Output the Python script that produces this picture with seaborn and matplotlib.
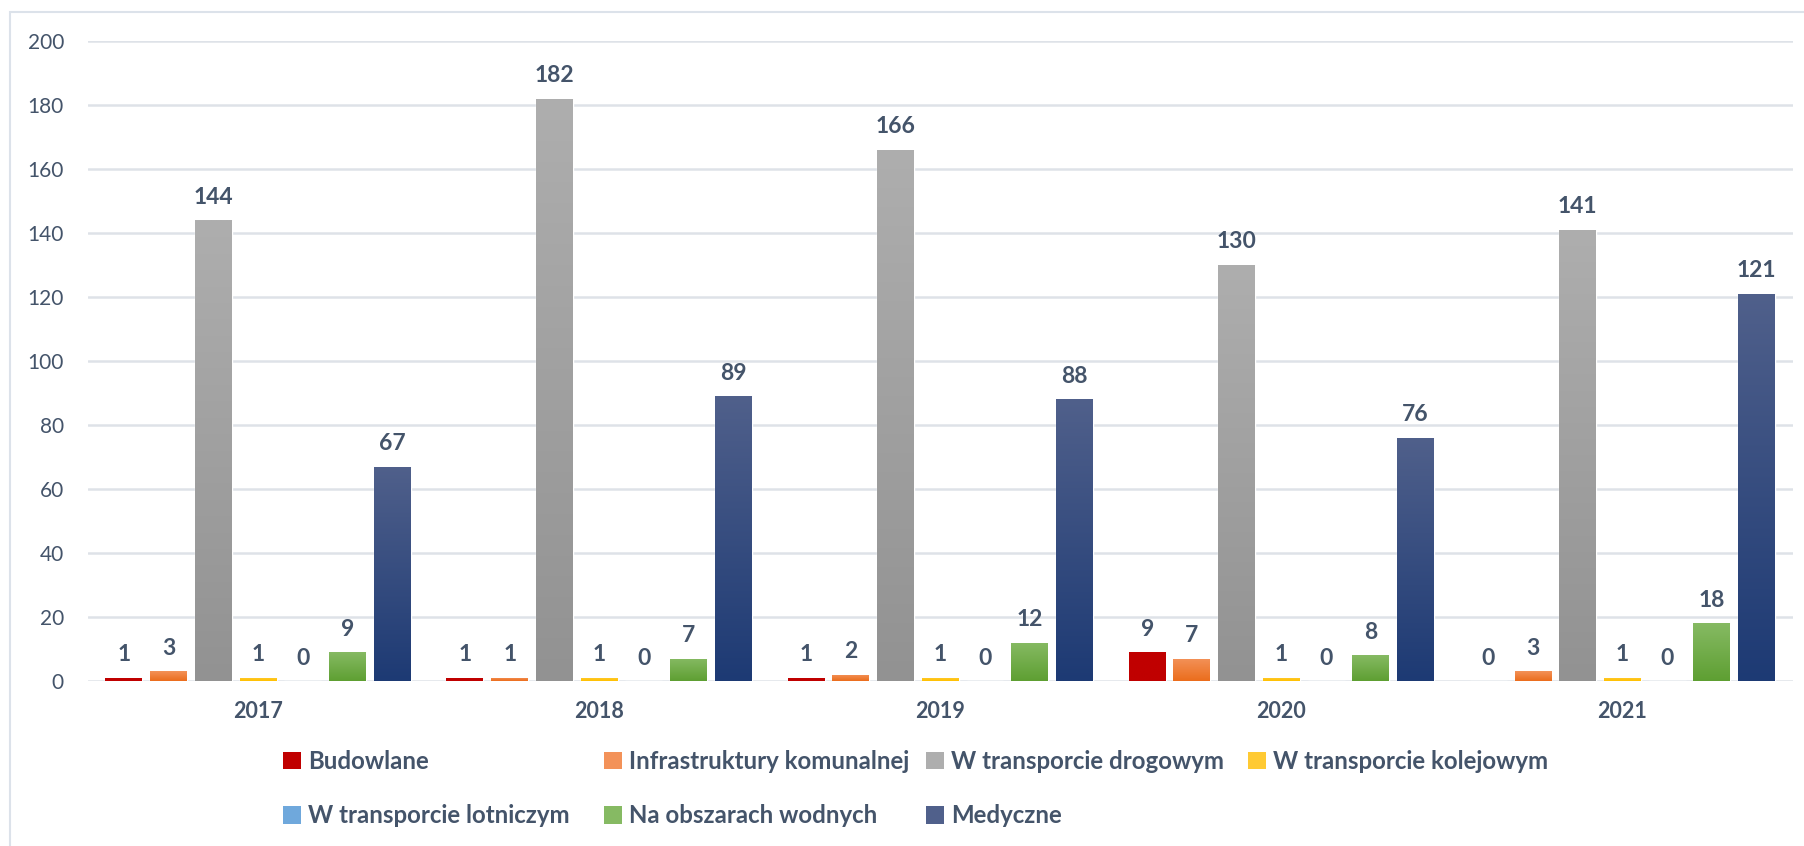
import numpy as np
import pandas as pd
import seaborn as sns
import matplotlib.pyplot as plt
from matplotlib.colors import LinearSegmentedColormap
from matplotlib.patches import Rectangle, Patch

# dane
lata = ["2017", "2018", "2019", "2020", "2021"]
kategorie = ["Budowlane", "Infrastruktury komunalnej", "W transporcie drogowym",
             "W transporcie kolejowym", "W transporcie lotniczym",
             "Na obszarach wodnych", "Medyczne"]
budowlane = [1, 1, 1, 9, 0]
infrastruktura = [3, 1, 2, 7, 3]
drogowy = [144, 182, 166, 130, 141]
kolejowy = [1, 1, 1, 1, 1]
lotniczy = [0, 0, 0, 0, 0]
wodne = [9, 7, 12, 8, 18]
medyczne = [67, 89, 88, 76, 121]

# kolory: (dol, gora) gradientu
kolory = {
    "Budowlane": ("#C00000", "#C00000"),
    "Infrastruktury komunalnej": ("#EB6D1C", "#F39259"),
    "W transporcie drogowym": ("#929292", "#AEAEAE"),
    "W transporcie kolejowym": ("#FFC000", "#FFCA33"),
    "W transporcie lotniczym": ("#3F86CB", "#6FA8DC"),
    "Na obszarach wodnych": ("#5E9F32", "#86BA63"),
    "Medyczne": ("#1D3A74", "#50608B"),
}
kolor_tekstu = "#44546A"
kolor_siatki = "#DEE2E8"

wartosci = [budowlane, infrastruktura, drogowy, kolejowy, lotniczy, wodne, medyczne]
df = pd.DataFrame({
    "rok": np.repeat(lata, len(kategorie)),
    "kategoria": kategorie * len(lata),
    "liczba": [wartosci[k][r] for r in range(len(lata)) for k in range(len(kategorie))],
})

sns.set_theme(style="white")
plt.rcParams["font.family"] = ["Lato", "DejaVu Sans"]

W, H = 1804, 846
fig = plt.figure(figsize=(W / 100, H / 100), dpi=100)
ax = fig.add_axes([87.5 / W, 1 - 681 / H, (1793 - 87.5) / W, 640 / H])

srednie = {k: v[0] for k, v in kolory.items()}
sns.barplot(data=df, x="rok", y="liczba", hue="kategoria", hue_order=kategorie,
            palette=srednie, width=0.918, gap=0.175, errorbar=None,
            legend=False, ax=ax)

ax.set_ylim(0, 200)
ax.set_yticks(range(0, 201, 20))
ax.grid(axis="y", color=kolor_siatki, linewidth=1.8)
ax.set_axisbelow(True)
for s in ax.spines.values():
    s.set_visible(False)
ax.set_xlabel("")
ax.set_ylabel("")
ax.tick_params(axis="y", length=0, pad=17, labelsize=15, labelcolor=kolor_tekstu)
ax.tick_params(axis="x", length=0, labelbottom=False)

# etykiety lat (pogrubione)
for i, rok in enumerate(lata):
    ax.annotate(rok, xy=(i, 0), xycoords=("data", "axes fraction"),
                xytext=(0, -22), textcoords="offset points", ha="center", va="center",
                fontsize=15.5, fontweight="bold", color=kolor_tekstu)

# gradienty na slupkach
grad = np.linspace(0, 1, 256).reshape(-1, 1)
for kat, cont in zip(kategorie, ax.containers):
    dol, gora = kolory[kat]
    cmap = LinearSegmentedColormap.from_list(kat, [dol, gora])
    for p in cont.patches:
        h = p.get_height()
        if h <= 0:
            continue
        x0 = p.get_x()
        im = ax.imshow(grad, extent=[x0, x0 + p.get_width(), 0, h], origin="lower",
                       aspect="auto", cmap=cmap, zorder=p.get_zorder())
        im.set_clip_path(p)
    ax.bar_label(cont, padding=9, fontsize=16.5, fontweight="bold", color=kolor_tekstu)
ax.set_xlim(-0.5, 4.5)
ax.set_ylim(0, 200)

# legenda - kolumny jak w Excelu
kolumny = [[0, 4], [1, 5], [2, 6], [3]]
x_kol = [283, 604, 926, 1248]
for idx, xk in zip(kolumny, x_kol):
    uchwyty = [Patch(facecolor=kolory[kategorie[i]][1], edgecolor="none") for i in idx]
    fig.legend(uchwyty, [kategorie[i] for i in idx], loc="upper left",
               bbox_to_anchor=(xk / W, 1 - 750 / H), frameon=False,
               prop={"size": 17.3, "weight": "bold"}, labelcolor=kolor_tekstu,
               handlelength=0.75, handleheight=0.75, handletextpad=0.3,
               labelspacing=1.3, borderpad=0, borderaxespad=0)

# ramka wykresu (gora i lewo)
fig.patches.append(Rectangle((10 / W, -0.1), 1.2, 1 - 12 / H + 0.1, transform=fig.transFigure,
                             fill=False, edgecolor="#DCE2EA", linewidth=1.5))

fig.savefig("out.png", dpi=100)
